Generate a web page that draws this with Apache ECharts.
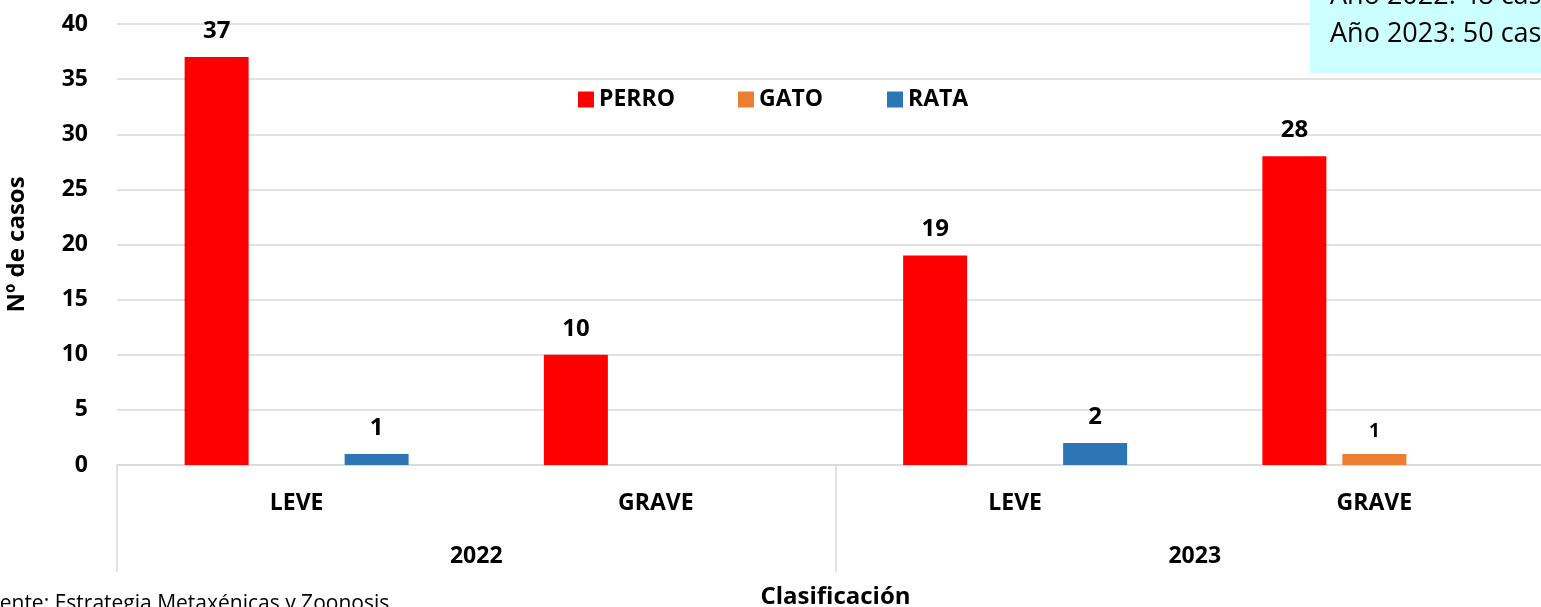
<!DOCTYPE html>
<html><head><meta charset="utf-8">
<script src="https://cdn.jsdelivr.net/npm/echarts@6/dist/echarts.min.js"></script>
<style>html,body{margin:0;padding:0;background:#fff}#c{width:1541px;height:607px}</style>
</head><body><div id="c"></div>
<script>
const categories = ['LEVE','GRAVE','LEVE','GRAVE'];
const years = ['2022','2023'];
const perro = [37,10,19,28];
const gato = [null,null,null,1];
const rata = [1,null,2,null];
const yTicks = {min:0,max:40,interval:5};
const boxLines = ['Año 2022: 48 casos','Año 2023: 50 casos'];
const source = 'Fuente: Estrategia Metaxénicas y Zoonosis';

const FONT = '"Open Sans", "Noto Sans", sans-serif';
const chart = echarts.init(document.getElementById('c'));
const lbl = (size, dist) => ({show:true, position:'top', distance:dist, fontFamily:FONT, fontWeight:'bold', fontSize:size, color:'#000'});
const legendText = {fontFamily:FONT, fontWeight:'bold', fontSize:23, color:'#000'};
const mkLegend = (name, left) => ({top:83, left:left, itemWidth:16, itemHeight:16, icon:'rect', itemGap:0, textStyle:legendText, data:[name]});
chart.setOption({
  animation:false,
  textStyle:{fontFamily:FONT},
  grid:{left:117, right:-13, top:24, bottom:142, outerBoundsMode:'none', containLabel:false},
  legend:[mkLegend('PERRO',573), mkLegend('GATO',733), mkLegend('RATA',882)],
  xAxis:[
    {type:'category', data:categories, position:'bottom',
     axisLine:{lineStyle:{color:'#d9d9d9', width:1.5}}, axisTick:{show:false},
     axisLabel:{margin:27, fontFamily:FONT, fontWeight:'bold', fontSize:23, color:'#000'}},
    {type:'category', data:years, position:'bottom', gridIndex:0,
     axisLine:{show:false},
     axisTick:{show:true, length:107, alignWithLabel:false, interval:0, lineStyle:{color:'#d9d9d9', width:1.5}},
     axisLabel:{margin:80, fontFamily:FONT, fontWeight:'bold', fontSize:23, color:'#000'},
     name:'Clasificación', nameLocation:'middle', nameGap:120,
     nameTextStyle:{fontFamily:FONT, fontWeight:'bold', fontSize:24, color:'#000'}}
  ],
  yAxis:{type:'value', min:yTicks.min, max:yTicks.max, interval:yTicks.interval,
    axisLine:{show:false}, axisTick:{show:false},
    splitLine:{lineStyle:{color:'#d9d9d9', width:1.5}},
    axisLabel:{margin:29, fontFamily:FONT, fontWeight:'bold', fontSize:23, color:'#000'},
    name:'Nº de casos', nameLocation:'middle', nameGap:88, nameRotate:90,
    nameTextStyle:{fontFamily:FONT, fontWeight:'bold', fontSize:24, color:'#000'}},
  series:[
    {name:'PERRO', type:'bar', data:perro, itemStyle:{color:'#ff0000'}, barWidth:64, barGap:'25%', label:lbl(24,14)},
    {name:'GATO', type:'bar', data:gato, itemStyle:{color:'#ed7d31'}, barWidth:64, barGap:'25%', label:lbl(19,13)},
    {name:'RATA', type:'bar', data:rata, itemStyle:{color:'#2e75b6'}, barWidth:64, barGap:'25%', label:lbl(24,14)}
  ],
  graphic:[
    {type:'rect', shape:{x:1310, y:-5, width:240, height:78}, style:{fill:'#ccffff'}, z:10},
    {type:'text', x:1330, y:-4, z:11, style:{text:boxLines[0], font:'27px '+FONT, fill:'#000', verticalAlign:'middle'}},
    {type:'text', x:1330, y:34, z:11, style:{text:boxLines[1], font:'27px '+FONT, fill:'#000', verticalAlign:'middle'}},
    {type:'text', x:-24, y:594, z:11, style:{text:source, font:'21px '+FONT, fill:'#000', verticalAlign:'top'}}
  ]
});
</script></body></html>
